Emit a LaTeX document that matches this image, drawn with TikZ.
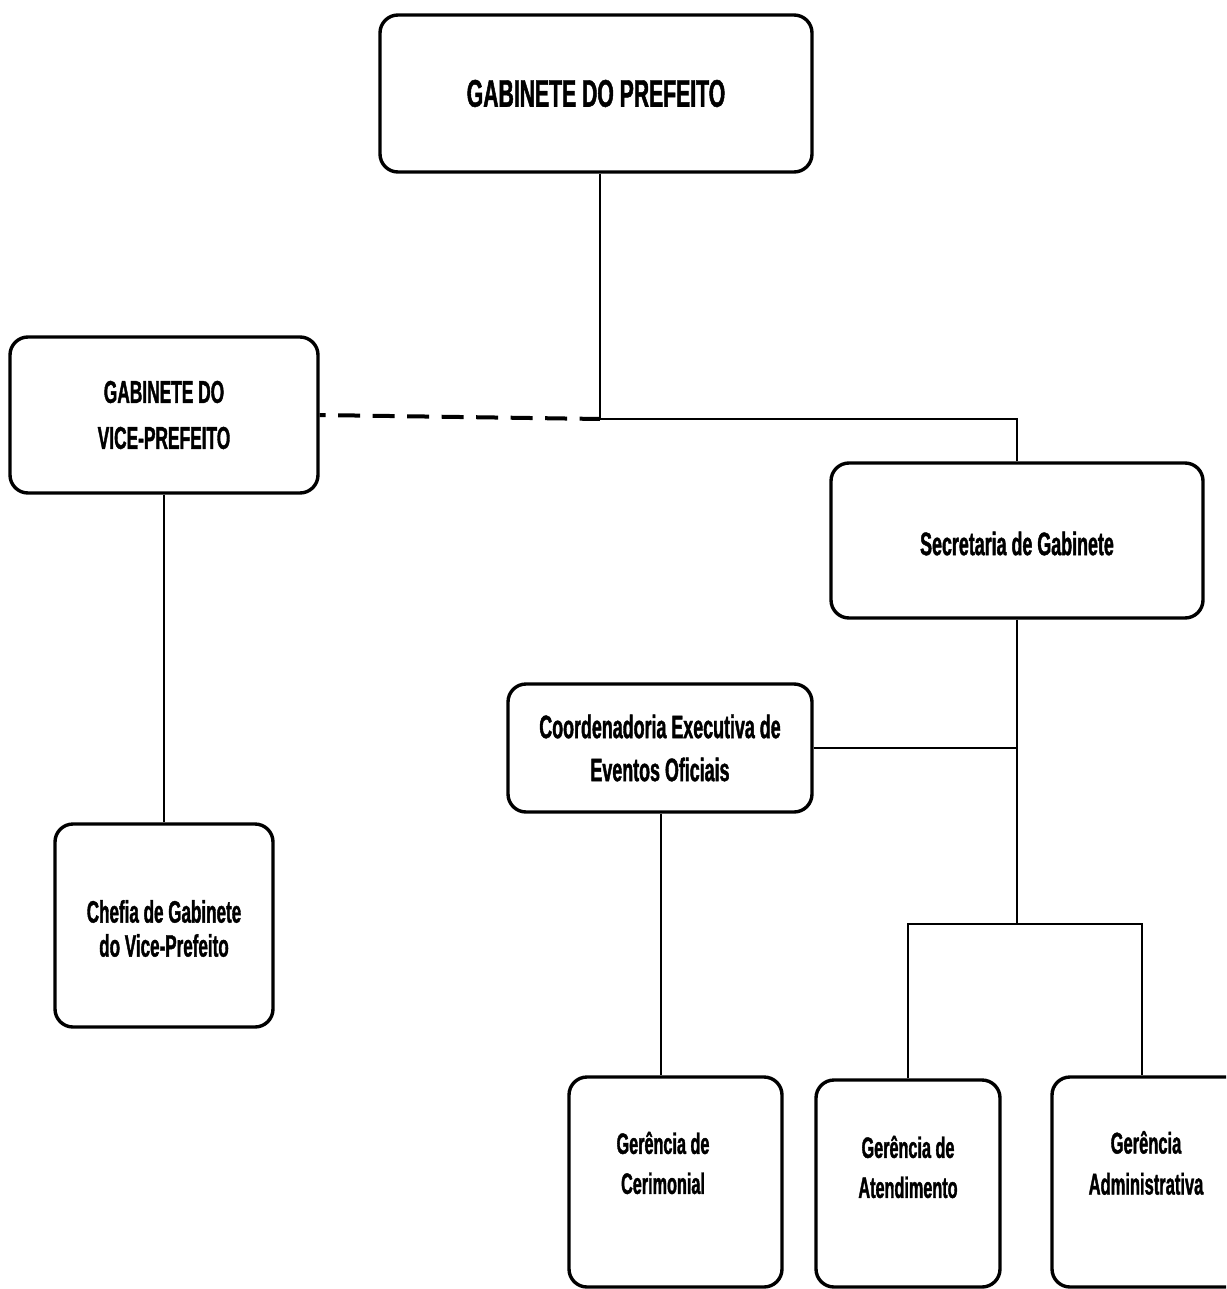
\documentclass[tikz,border=0pt]{standalone}
\usepackage{fontspec}
\newfontfamily\nf[FakeStretch=0.55, BoldFeatures={FakeStretch=0.55, FakeBold=1.2}]{Liberation Sans}
\usetikzlibrary{calc}
\tikzset{
  box/.style={draw=black, line width=3.4pt, rounded corners=18pt, fill=white, inner sep=0pt},
  txt/.style={align=center, inner sep=0pt, font=\nf\bfseries\fontsize{31}{37}\selectfont},
  conn/.style={draw=black, line width=2.6pt},
  dconn/.style={draw=black, line width=4pt, dash pattern=on 22pt off 12.5pt, dash phase=16pt}
}
\begin{document}
\begin{tikzpicture}[x=1pt,y=-1pt]
\useasboundingbox (0,0) rectangle (1226,1289);
\clip (0,0) rectangle (1226,1289);
\fill[white] (0,0) rectangle (1226,1289);
% boxes
\node[box, minimum width=432pt, minimum height=157pt] (top) at (596,93.5) {};
\node[txt, font=\nf\bfseries\fontsize{38.5}{44}\selectfont] (topT) at (top.center) {GABINETE DO PREFEITO};
\node[box, minimum width=308pt, minimum height=156pt] (vice) at (164,415) {};
\node[txt, font=\nf\bfseries\fontsize{31.5}{46}\selectfont] (viceT) at (vice.center) {GABINETE DO\\VICE-PREFEITO};
\node[box, minimum width=372pt, minimum height=155pt] (sec) at (1017,540.5) {};
\node[txt, font=\nf\bfseries\fontsize{32.5}{40}\selectfont] (secT) at ($(sec.center)+(0,3)$) {Secretaria de Gabinete};
\node[box, minimum width=304pt, minimum height=128pt] (coord) at (660,748) {};
\node[txt, font=\nf\bfseries\fontsize{32.5}{43}\selectfont] (coordT) at (coord.center) {Coordenadoria Executiva de\\Eventos Oficiais};
\node[box, minimum width=218pt, minimum height=203pt] (chefia) at (164,925.5) {};
\node[txt, font=\nf\bfseries\fontsize{31}{34}\selectfont] (chefiaT) at ($(chefia.center)+(0,3)$) {Chefia de Gabinete\\do Vice-Prefeito};
\node[box, minimum width=213pt, minimum height=210pt] (cer) at (675.5,1182) {};
\node[txt, font=\nf\bfseries\fontsize{29.5}{40}\selectfont] (cerT) at (663,1163) {Gerência de\\Cerimonial};
\node[box, minimum width=184pt, minimum height=207pt] (ate) at (908,1183.5) {};
\node[txt, font=\nf\bfseries\fontsize{29.5}{40}\selectfont] (ateT) at (908,1167) {Gerência de\\Atendimento};
\node[box, minimum width=192pt, minimum height=210pt] (adm) at (1148,1182) {};
\node[txt, font=\nf\bfseries\fontsize{30}{41}\selectfont] (admT) at (1146,1163) {Gerência\\Administrativa};
% junctions
\coordinate (j1) at (600,419);
\coordinate (j2) at (1017,924);
\coordinate (j3) at (1017,748);
\coordinate (j4) at (1142,924);
% connectors
\draw[conn] (top.south -| j1) -- (j1) -| (sec.north);
\draw[dconn] (vice.east) -- (j1);
\draw[conn] (vice.south) -- (chefia.north);
\draw[conn] (sec.south) -- (j2);
\draw[conn] (coord.east) -- (j3);
\draw[conn] (ate.north) |- (j4) -- (j4 |- adm.north);
\draw[conn] (coord.south -| 661,0) -- (661,0 |- cer.north);
\end{tikzpicture}
\end{document}
